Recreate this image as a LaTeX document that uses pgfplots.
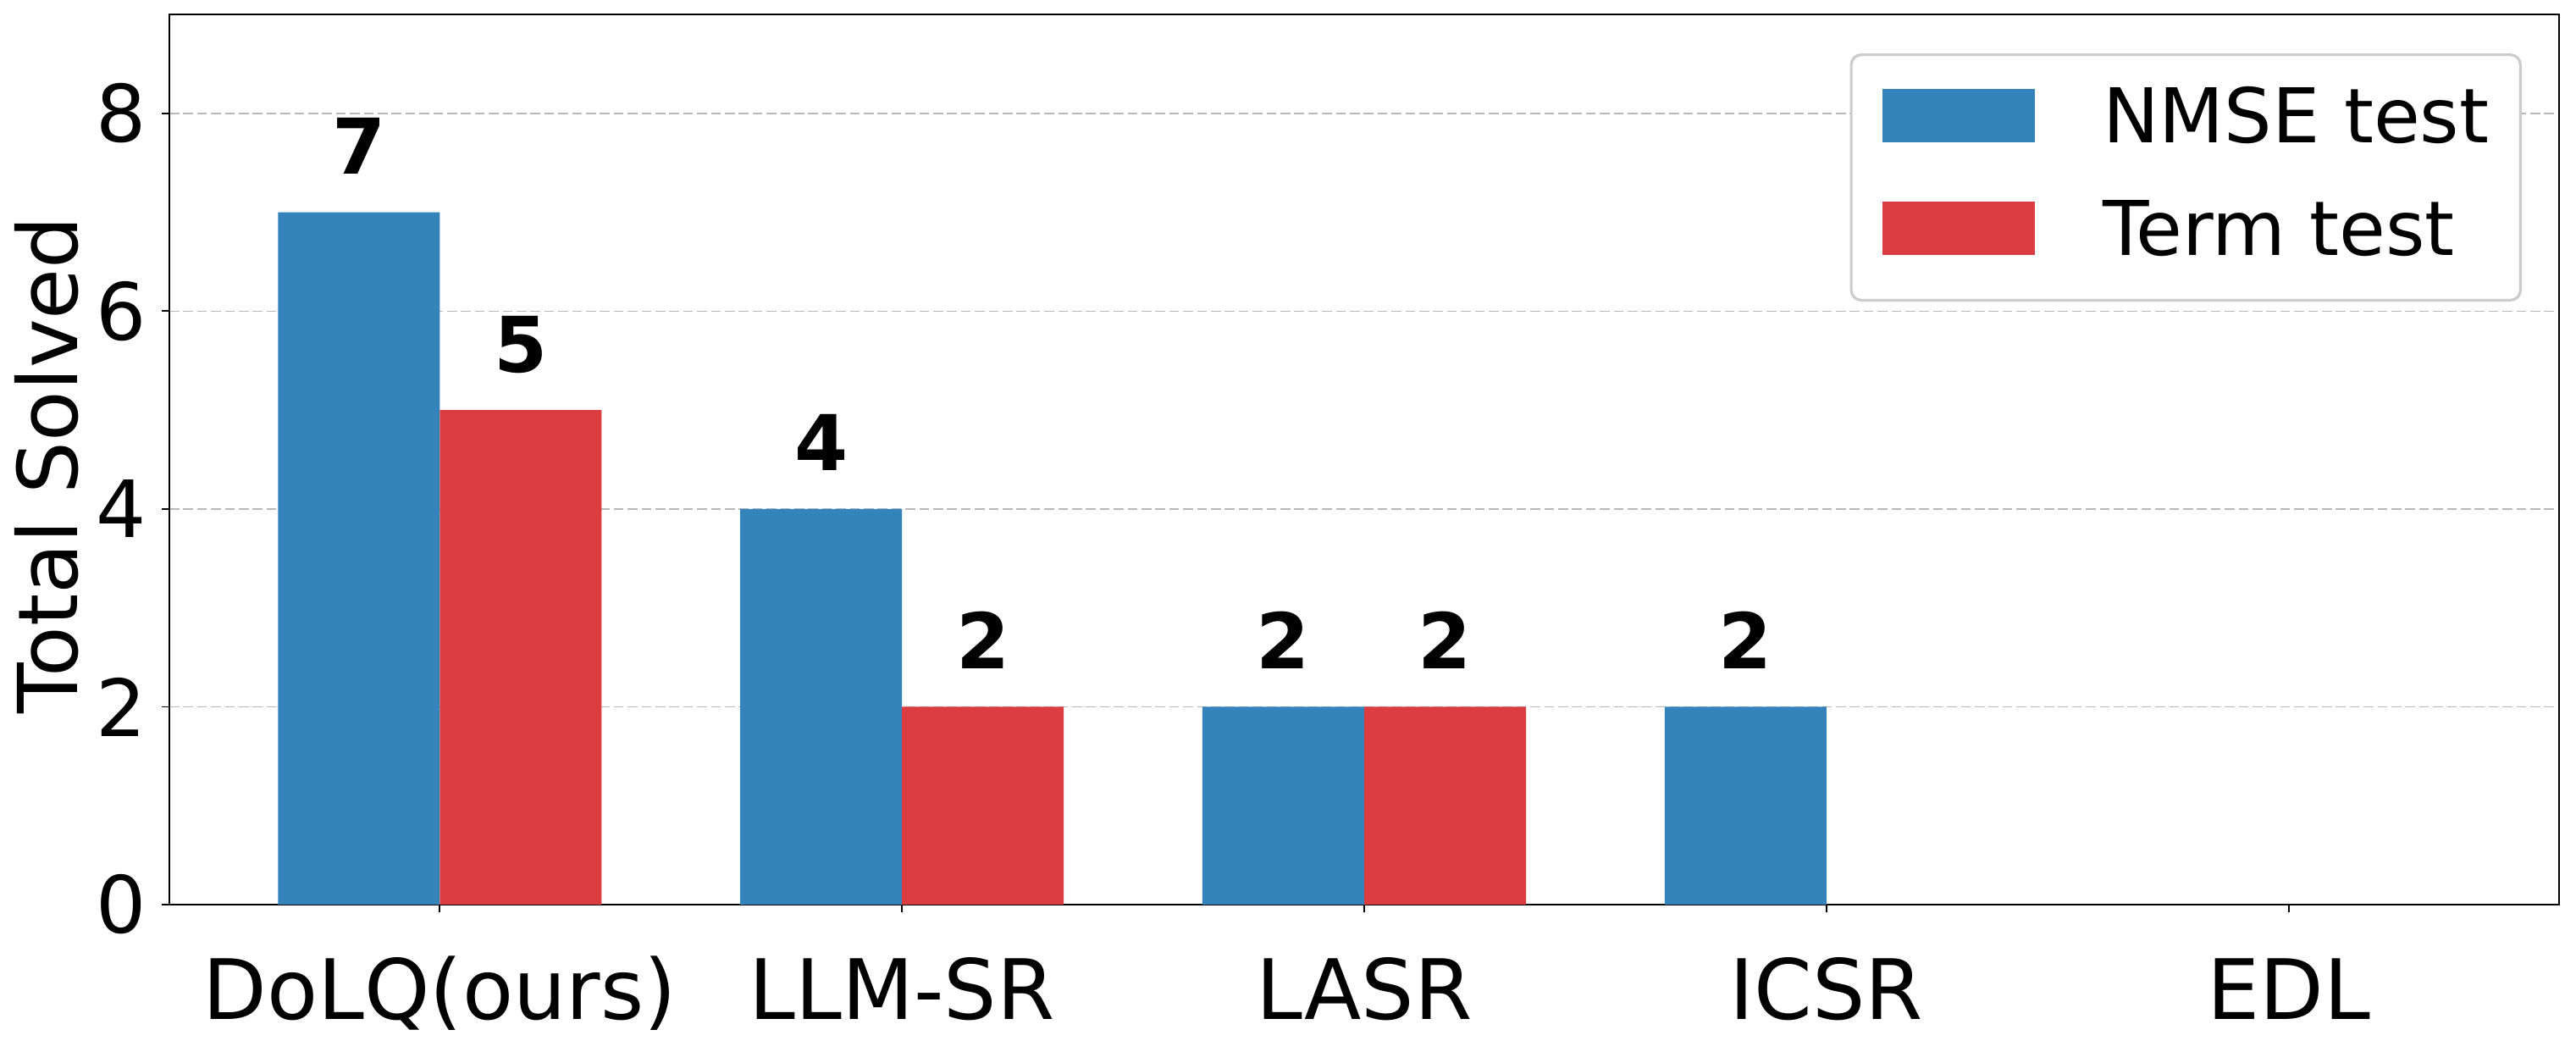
\documentclass[border=0pt]{standalone}
\usepackage{fontspec}
\setmainfont{DejaVu Sans}
\usepackage{pgfplots}
\pgfplotsset{compat=1.18}

\definecolor{nmseblue}{RGB}{53,131,187}
\definecolor{termred}{RGB}{218,60,63}

\begin{document}
\begin{tikzpicture}
\begin{axis}[
  at={(0,0)}, anchor=south west,
  scale only axis, width=705.5pt, height=262.75pt,
  xmin=-0.585, xmax=4.585, ymin=0, ymax=9,
  xtick={0,1,2,3,4},
  xticklabels={DoLQ(ours),LLM-SR,LASR,ICSR,EDL},
  ytick={0,2,4,6,8},
  xtick pos=bottom, ytick pos=left,
  tick align=outside,
  major tick length=2.3pt,
  tick style={black, line width=0.45pt},
  axis line style={black, line width=0.7pt},
  /pgf/number format/assume math mode=true,
  xticklabel style={font=\fontsize{24.6pt}{30pt}\selectfont, anchor=base, inner sep=0pt, yshift=-31.7pt},
  yticklabel style={font=\fontsize{23.3pt}{28pt}\selectfont, anchor=east, inner sep=0pt, xshift=-4.2pt},
  ylabel={Total Solved},
  ylabel style={font=\fontsize{24.4pt}{29pt}\selectfont, at={(axis description cs:-0.0385,0.494)}, anchor=base, inner sep=0pt},
  ymajorgrids,
  major grid style={black!28, line width=0.35pt, dash pattern=on 2.9pt off 1.2pt},
  ybar, bar width=0.35,
  nodes near coords,
  every node near coord/.append style={font=\fontsize{22.7pt}{27pt}\selectfont\bfseries, anchor=base, inner sep=0pt, yshift=11.25pt},
  legend cell align=left,
  legend style={at={(axis description cs:1,1)}, anchor=north east, xshift=-11pt, yshift=-11.5pt,
    draw=black!20, line width=0.8pt, rounded corners=3pt, fill=white,
    inner xsep=9.25pt, inner ysep=8.45pt, row sep=10.95pt, column sep=20pt,
    font=\fontsize{22.3pt}{27pt}\selectfont,
    nodes={anchor=base west, inner sep=0pt, text height=17.5pt, text depth=4.8pt}},
  legend image code/.code={\fill[#1, sharp corners] (0pt,0pt) rectangle (45pt,15.75pt);},
]
% NMSE test
\addplot[fill=nmseblue, draw=none, bar shift=-0.175] coordinates {(0,7) (1,4) (2,2) (3,2)};
\addlegendentry{NMSE test}
% Term test
\addplot[fill=termred, draw=none, bar shift=0.175] coordinates {(0,5) (1,2) (2,2)};
\addlegendentry{Term test}
\end{axis}
\pgfresetboundingbox
\path[use as bounding box] (-50pt,-43.5pt) rectangle (710.5pt,267pt);
\end{tikzpicture}
\end{document}
